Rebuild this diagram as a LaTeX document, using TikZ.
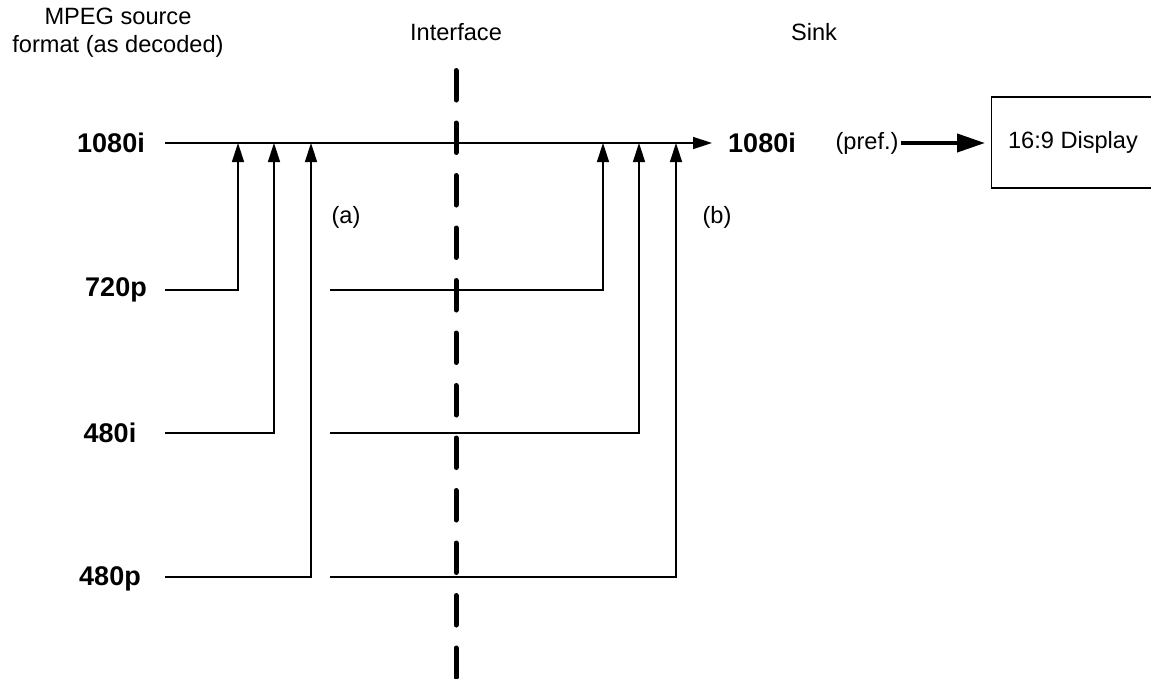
\documentclass[tikz,border=0pt]{standalone}
\usepackage{fontspec}
\setmainfont{Liberation Sans}
\usetikzlibrary{arrows.meta}
\begin{document}
\begin{tikzpicture}[x=1pt,y=-1pt,
  lbl/.style={inner sep=0pt,font=\fontsize{23.6}{28}\selectfont},
  fmt/.style={inner sep=0pt,font=\fontsize{27}{32}\selectfont\bfseries},
  wire/.style={line width=1.5pt},
  arr/.style={wire,-{Triangle[length=19pt,width=12pt]}},
  iface/.style={line width=5pt,line cap=round,dash pattern=on 29.5pt off 23pt},
  thick arr/.style={line width=4pt,-{Triangle[length=28pt,width=18pt]}},
  box/.style={draw,line width=1.2pt,minimum width=163pt,minimum height=91pt,inner sep=0pt,font=\fontsize{23.6}{28}\selectfont}]
\useasboundingbox (0,0) rectangle (1151,678);
\clip (0,0) rectangle (1151,678);
\fill[white] (0,0) rectangle (1151,678);

% headings
\node[lbl,align=center] (mpeg) at (118,33) {MPEG source\\format (as decoded)};
\node[lbl] (iftext) at (456,32) {Interface};
\node[lbl] (sink) at (814,32) {Sink};

% interface dashed line
\coordinate (ifTop) at (456,70.5);
\coordinate (ifBot) at (456,690);
\draw[iface] (ifTop) -- (ifBot);

% source format labels
\node[fmt] (s1080) at (111,143) {1080i};
\node[fmt] (s720) at (116,290) {720p};
\node[fmt] (s480i) at (110,433) {480i};
\node[fmt] (s480p) at (110,579) {480p};

% main line
\coordinate (mStart) at (165,143);
\coordinate (mEnd) at (712,143);
\draw[arr] (mStart) -- (mEnd);
\node[fmt] (d1080) at (762,143) {1080i};

% junctions
\coordinate (ja1) at (238,143);
\coordinate (ja2) at (274,143);
\coordinate (ja3) at (311,143);
\coordinate (jb1) at (603,143);
\coordinate (jb2) at (639,143);
\coordinate (jb3) at (676,143);

% (a) paths
\coordinate (a1s) at (165,290);
\coordinate (a2s) at (165,433);
\coordinate (a3s) at (165,577);
\draw[arr] (a1s) -| (ja1);
\draw[arr] (a2s) -| (ja2);
\draw[arr] (a3s) -| (ja3);

% (b) paths
\coordinate (b1s) at (330,290);
\coordinate (b2s) at (330,433);
\coordinate (b3s) at (330,577);
\draw[arr] (b1s) -| (jb1);
\draw[arr] (b2s) -| (jb2);
\draw[arr] (b3s) -| (jb3);

\node[lbl] (la) at (346,217) {(a)};
\node[lbl] (lb) at (717,217) {(b)};

% preference and display
\node[lbl] (pref) at (867,143) {(pref.)};
\node[box] (display) at (1073,142.5) {16:9 Display};
\draw[thick arr] (pref.east) ++(2pt,0) -- (985,143);
\end{tikzpicture}
\end{document}
